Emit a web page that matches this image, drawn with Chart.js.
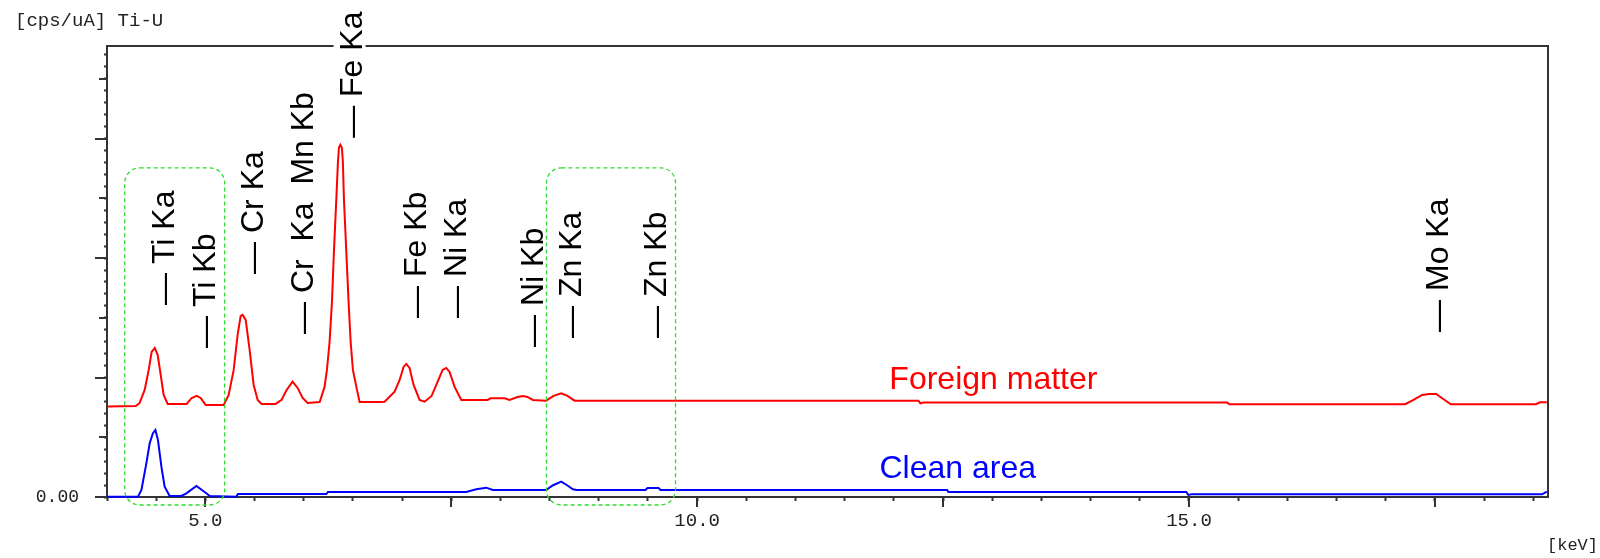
<!DOCTYPE html>
<html>
<head>
<meta charset="utf-8">
<script src="https://cdn.jsdelivr.net/npm/chart.js@4.4.1/dist/chart.umd.min.js"></script>
<style>
  html, body { margin: 0; padding: 0; background: #fff; }
  #wrap { width: 1600px; height: 558px; }
</style>
</head>
<body>
<div id="wrap"><canvas id="spectrum" width="1600" height="558"></canvas></div>
<script>
// spectrum: energy in keV, intensity in cps/uA (1 = one labelled tick step)
const foreignEnergy = [
  4.000, 4.292, 4.332, 4.383, 4.424, 4.454, 4.485, 4.515, 4.546, 4.576, 4.617,
  4.810, 4.861, 4.912, 4.952, 5.003, 5.186, 5.237, 5.288, 5.328, 5.359, 5.379,
  5.410, 5.450, 5.491, 5.532, 5.572, 5.714, 5.775, 5.826, 5.887, 5.938, 5.989,
  6.040, 6.162, 6.212, 6.236, 6.263, 6.287, 6.307, 6.331, 6.348, 6.358, 6.372,
  6.388, 6.398, 6.409, 6.433, 6.456, 6.477, 6.500, 6.535, 6.568, 6.771, 6.822,
  6.924, 6.975, 7.015, 7.043, 7.076, 7.117, 7.178, 7.229, 7.300, 7.361, 7.412,
  7.449, 7.483, 7.534, 7.602, 7.869, 7.900, 8.042, 8.092, 8.174, 8.228, 8.275,
  8.329, 8.465, 8.540, 8.618, 8.682, 8.753, 12.249, 12.270, 12.300, 15.389,
  15.410, 17.198, 17.269, 17.371, 17.442, 17.513, 17.574, 17.662, 18.526,
  18.570, 18.638,
];
const foreignCounts = [
  1.516, 1.524, 1.575, 1.792, 2.127, 2.429, 2.496, 2.379, 2.044, 1.709, 1.558,
  1.558, 1.658, 1.692, 1.658, 1.541, 1.541, 1.709, 2.127, 2.714, 3.032, 3.049,
  2.965, 2.462, 1.876, 1.625, 1.558, 1.558, 1.625, 1.792, 1.931, 1.826, 1.658,
  1.575, 1.591, 1.843, 2.127, 2.596, 3.266, 4.104, 4.975, 5.611, 5.846, 5.896,
  5.846, 5.611, 4.975, 4.104, 3.266, 2.596, 2.127, 1.843, 1.591, 1.591, 1.596,
  1.764, 1.960, 2.178, 2.228, 2.161, 1.876, 1.625, 1.596, 1.692, 1.926, 2.127,
  2.161, 2.094, 1.843, 1.625, 1.625, 1.653, 1.653, 1.625, 1.675, 1.692, 1.675,
  1.625, 1.613, 1.692, 1.737, 1.692, 1.613, 1.613, 1.566, 1.580, 1.580,
  1.553, 1.553, 1.613, 1.709, 1.725, 1.725, 1.653, 1.553, 1.553,
  1.586, 1.586,
];

const cleanEnergy = [
  4.000, 4.315, 4.350, 4.400, 4.434, 4.467, 4.492, 4.518, 4.553, 4.586, 4.637,
  4.756, 4.807, 4.909, 5.010, 5.044, 5.315, 5.331, 6.230, 6.246, 7.652, 7.754,
  7.856, 7.923, 8.465, 8.530, 8.618, 8.682, 8.736, 8.773, 9.475, 9.495, 9.607,
  9.628, 12.541, 12.554, 14.973, 14.993, 15.027, 18.590, 18.638,
];
const cleanCounts = [
  0.005, 0.005, 0.117, 0.564, 0.899, 1.067, 1.122, 0.955, 0.508, 0.173, 0.017,
  0.017, 0.062, 0.184, 0.062, 0.017, 0.005, 0.050, 0.050, 0.084, 0.084, 0.129,
  0.156, 0.117, 0.117, 0.193, 0.256, 0.193, 0.129, 0.117, 0.117, 0.151, 0.151,
  0.117, 0.117, 0.084, 0.084, 0.034, 0.045, 0.045, 0.089,
];

// peak markers: energy of the text baseline and intensity where the dash starts
const peakNames = ["Ti Ka", "Ti Kb", "Cr Ka", "Cr  Ka  Mn Kb", "Fe Ka", "Fe Kb", "Ni Ka", "Ni Kb", "Zn Ka", "Zn Kb", "Mo Ka"];
const peakLabelEnergy = [4.678, 5.095, 5.582, 6.090, 6.588, 7.239, 7.645, 8.428, 8.824, 9.688, 17.635];
const peakLabelLevel = [3.216, 2.496, 3.735, 2.730, 6.013, 2.998, 2.998, 2.513, 2.663, 2.663, 2.764];

// dashed regions of interest
const roiStart = [4.18, 8.468];
const roiEnd = [5.196, 9.78];
const roiTop = [5.511, 5.511];
const roiBottom = [-0.134, -0.134];

const seriesNames = ["Foreign matter", "Clean area"];
const seriesColors = ["#ff0000", "#0000ff"];
const seriesNameEnergy = [11.954, 11.853];
const seriesNameLevel = [1.812, 0.318];

const xLabelValues = [5, 10, 15];
const xTickLabels = ["5.0", "10.0", "15.0"];
const yLabelValues = [0];
const yTickLabels = ["0.00"];

const X_MIN = 4.0;
const X_MAX = 18.65;
const Y_MAX = 7.55;

function zip(xs, ys) {
  return xs.map((x, i) => ({ x, y: ys[i] }));
}

function labelFor(values, labels, value) {
  const idx = values.findIndex((v) => Math.abs(v - value) < 1e-6);
  return idx >= 0 ? labels[idx] : "";
}

function eachPeakLabel(ctx, x, y, draw) {
  peakNames.forEach((name, i) => {
    const text = "\u2014 " + name;
    ctx.save();
    ctx.translate(x.getPixelForValue(peakLabelEnergy[i]), y.getPixelForValue(peakLabelLevel[i]));
    ctx.rotate(-Math.PI / 2);
    draw(text);
    ctx.restore();
  });
}

const spectrumDecor = {
  id: "spectrumDecor",
  beforeDatasetsDraw(chart) {
    const { ctx, chartArea: area, scales } = chart;
    ctx.save();
    ctx.strokeStyle = "#333";
    ctx.lineWidth = 2;
    ctx.strokeRect(area.left, area.top, area.right - area.left, area.bottom - area.top);

    // longer ticks on top of the short ones drawn by the scales
    ctx.beginPath();
    for (const t of scales.x.ticks) {
      if (Math.round(t.value * 2) % 5 !== 0) continue;
      const px = Math.round(scales.x.getPixelForValue(t.value));
      ctx.moveTo(px, area.bottom);
      ctx.lineTo(px, area.bottom + 10);
    }
    for (const t of scales.y.ticks) {
      const k = Math.round(t.value * 5);
      if (k % 5 !== 0) continue;
      const len = (k / 5) % 2 === 0 ? 12 : 8;
      const py = Math.round(scales.y.getPixelForValue(t.value));
      ctx.moveTo(area.left, py);
      ctx.lineTo(area.left - len, py);
    }
    ctx.stroke();
    ctx.restore();
  },
  afterDatasetsDraw(chart) {
    const { ctx, scales } = chart;
    const { x, y } = scales;
    ctx.save();
    ctx.font = '32px "Liberation Sans", Arial, sans-serif';
    ctx.textAlign = "left";
    ctx.textBaseline = "alphabetic";

    // white backing under the labels (cuts the frame where Fe Ka crosses it)
    ctx.fillStyle = "#fff";
    eachPeakLabel(ctx, x, y, (text) => {
      ctx.fillRect(-1, -28, ctx.measureText(text).width + 2, 32);
    });

    ctx.strokeStyle = "#2fdc2f";
    ctx.lineWidth = 1.3;
    ctx.setLineDash([4, 3]);
    roiStart.forEach((start, i) => {
      const l = x.getPixelForValue(start);
      const r = x.getPixelForValue(roiEnd[i]);
      const t = y.getPixelForValue(roiTop[i]);
      const b = y.getPixelForValue(roiBottom[i]);
      ctx.beginPath();
      ctx.roundRect(l, t, r - l, b - t, 15);
      ctx.stroke();
    });
    ctx.setLineDash([]);

    ctx.fillStyle = "#000";
    eachPeakLabel(ctx, x, y, (text) => ctx.fillText(text, 0, 0));

    seriesNames.forEach((name, i) => {
      ctx.fillStyle = seriesColors[i];
      ctx.fillText(name, x.getPixelForValue(seriesNameEnergy[i]), y.getPixelForValue(seriesNameLevel[i]));
    });

    ctx.fillStyle = "#222";
    ctx.textBaseline = "middle";
    ctx.font = '19px "Liberation Mono", monospace';
    ctx.fillText("[cps/uA] Ti-U", 15, 21);
    ctx.textAlign = "right";
    ctx.font = '17px "Liberation Mono", monospace';
    ctx.fillText("[keV]", 1598, 545);
    ctx.restore();
  },
};

Chart.defaults.font.family = '"Liberation Mono", monospace';
Chart.defaults.color = "#222";

new Chart(document.getElementById("spectrum"), {
  type: "line",
  data: {
    datasets: [
      {
        label: seriesNames[0],
        data: zip(foreignEnergy, foreignCounts),
        borderColor: seriesColors[0],
        borderWidth: 2,
        pointRadius: 0,
        tension: 0,
        fill: false,
        clip: false,
      },
      {
        label: seriesNames[1],
        data: zip(cleanEnergy, cleanCounts),
        borderColor: seriesColors[1],
        borderWidth: 2,
        pointRadius: 0,
        tension: 0,
        fill: false,
        clip: false,
      },
    ],
  },
  options: {
    responsive: false,
    animation: false,
    devicePixelRatio: 1,
    layout: { padding: { top: 46, right: 52, bottom: 0, left: 0 } },
    plugins: {
      legend: { display: false },
      tooltip: { enabled: false },
    },
    scales: {
      x: {
        type: "linear",
        min: X_MIN,
        max: X_MAX,
        border: { display: false },
        grid: { drawOnChartArea: false, drawTicks: true, tickLength: 4, tickWidth: 2, tickColor: "#333" },
        ticks: {
          stepSize: 0.5,
          includeBounds: false,
          autoSkip: false,
          maxRotation: 0,
          padding: 9,
          font: { size: 19 },
          callback: (value) => labelFor(xLabelValues, xTickLabels, value),
        },
        afterFit: (scale) => { scale.height = 61; },
      },
      y: {
        type: "linear",
        min: 0,
        max: Y_MAX,
        border: { display: false },
        grid: { drawOnChartArea: false, drawTicks: true, tickLength: 3, tickWidth: 2, tickColor: "#333" },
        ticks: {
          stepSize: 0.2,
          includeBounds: false,
          autoSkip: false,
          padding: 25,
          font: { size: 18 },
          callback: (value) => labelFor(yLabelValues, yTickLabels, value),
        },
        afterFit: (scale) => { scale.width = 107; },
      },
    },
  },
  plugins: [spectrumDecor],
});
</script>
</body>
</html>
